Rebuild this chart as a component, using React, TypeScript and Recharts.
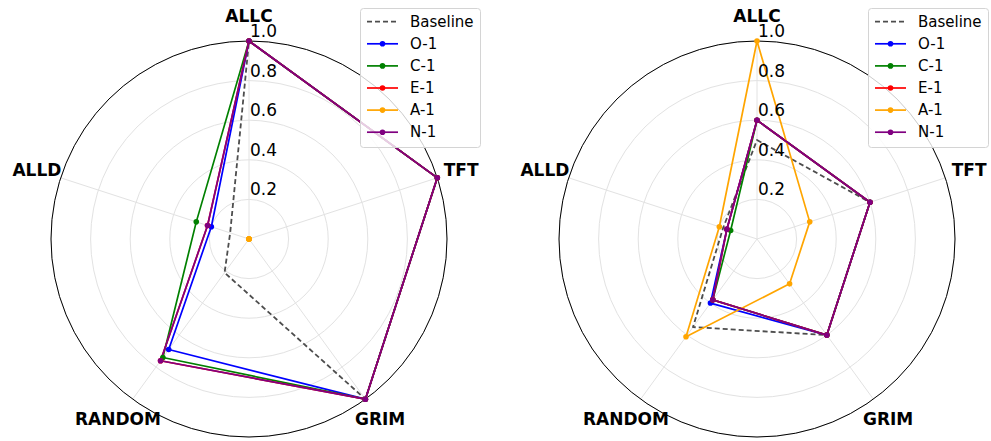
import React from "react";
import {
  PolarAngleAxis,
  PolarGrid,
  PolarRadiusAxis,
  Radar,
  RadarChart,
} from "recharts";

const AXES = ["ALLC", "TFT", "GRIM", "RANDOM", "ALLD"];

// left panel
const L_BASELINE = [1.0, 1.0, 1.0, 0.21, 0.1];
const L_O1 = [1.0, 1.0, 1.0, 0.69, 0.2];
const L_C1 = [1.0, 1.0, 1.0, 0.74, 0.28];
const L_E1 = [1.0, 1.0, 1.0, 0.76, 0.22];
const L_A1 = [0.0, 0.0, 0.0, 0.0, 0.0];
const L_N1 = [1.0, 1.0, 1.0, 0.76, 0.22];

// right panel
const R_BASELINE = [0.5, 0.6, 0.6, 0.55, 0.18];
const R_O1 = [0.6, 0.6, 0.6, 0.4, 0.16];
const R_C1 = [0.6, 0.6, 0.6, 0.38, 0.14];
const R_E1 = [0.6, 0.6, 0.6, 0.38, 0.16];
const R_A1 = [1.0, 0.28, 0.28, 0.61, 0.2];
const R_N1 = [0.6, 0.6, 0.6, 0.38, 0.16];

const RADIUS_TICKS = [0, 0.2, 0.4, 0.6, 0.8, 1.0];

const SERIES = [
  { key: "baseline", name: "Baseline", color: "#4d4d4d", dashed: true },
  { key: "o1", name: "O-1", color: "#0000ff" },
  { key: "c1", name: "C-1", color: "#008000" },
  { key: "e1", name: "E-1", color: "#ff0000" },
  { key: "a1", name: "A-1", color: "#ffa500" },
  { key: "n1", name: "N-1", color: "#800080" },
];

const FONT = "'DejaVu Sans', Verdana, sans-serif";
const R = 198;
const DASH = "5 3";

function buildRows(cols: number[][]) {
  return AXES.map((axis, i) => ({
    axis,
    baseline: cols[0][i],
    o1: cols[1][i],
    c1: cols[2][i],
    e1: cols[3][i],
    a1: cols[4][i],
    n1: cols[5][i],
  }));
}

const angleTick = (props: any) => {
  const { x, y, payload } = props;
  return (
    <text
      x={x}
      y={y}
      textAnchor="middle"
      dominantBaseline="central"
      fontSize={17}
      fontWeight="bold"
      fontFamily={FONT}
      fill="#000"
    >
      {payload.value}
    </text>
  );
};

const radiusTick = (props: any) => {
  const { x, y, payload } = props;
  if (payload.value === 0) return <g />;
  return (
    <text
      x={x + 1}
      y={y - 10}
      textAnchor="start"
      dominantBaseline="central"
      fontSize={17}
      fontFamily={FONT}
      fill="#000"
    >
      {Number(payload.value).toFixed(1)}
    </text>
  );
};

const makeDot = (color: string) => (p: any) => (
  <circle key={`dot-${p.index}`} cx={p.cx} cy={p.cy} r={2.8} fill={color} stroke="none" />
);

function LegendBox({ left }: { left: number }) {
  return (
    <svg
      width={121}
      height={140}
      style={{ position: "absolute", left, top: 8, overflow: "visible" }}
    >
      <rect
        x={0.5}
        y={0.5}
        width={120}
        height={139}
        rx={3}
        fill="rgba(255,255,255,0.8)"
        stroke="#d4d4d4"
      />
      {SERIES.map((s, i) => {
        const y = 13.7 + 22.1 * i;
        return (
          <g key={s.key}>
            <line
              x1={7}
              x2={38}
              y1={y}
              y2={y}
              stroke={s.color}
              strokeWidth={s.dashed ? 1.8 : 1.7}
              strokeDasharray={s.dashed ? DASH : undefined}
            />
            {!s.dashed && <circle cx={22.5} cy={y} r={2.8} fill={s.color} />}
            <text
              x={50}
              y={y}
              dominantBaseline="central"
              fontSize={15}
              fontFamily={FONT}
              fill="#000"
            >
              {s.name}
            </text>
          </g>
        );
      })}
    </svg>
  );
}

function Panel({
  rows,
  left,
  width,
  cx,
  legendLeft,
}: {
  rows: any[];
  left: number;
  width: number;
  cx: number;
  legendLeft: number;
}) {
  return (
    <div style={{ position: "absolute", left, top: 0, width, height: 441 }}>
      <RadarChart
        width={width}
        height={441}
        data={rows}
        cx={cx}
        cy={239}
        outerRadius={R}
        margin={{ top: 0, right: 0, bottom: 0, left: 0 }}
      >
        <PolarGrid gridType="circle" stroke="#e2e2e2" strokeWidth={1} />
        <PolarGrid
          gridType="circle"
          polarRadius={[R]}
          radialLines={false}
          stroke="#000"
          strokeWidth={1}
        />
        <PolarAngleAxis
          dataKey="axis"
          tick={angleTick}
          tickLine={false}
          tickSize={25}
          axisLine={false}
        />
        <PolarRadiusAxis
          type="number"
          angle={90}
          domain={[0, 1]}
          ticks={RADIUS_TICKS as any}
          tickCount={6}
          axisLine={false}
          tickLine={false}
          tick={radiusTick}
        />
        {SERIES.map((s) => (
          <Radar
            key={s.key}
            dataKey={s.key}
            name={s.name}
            stroke={s.color}
            strokeWidth={s.dashed ? 1.8 : 1.7}
            strokeDasharray={s.dashed ? DASH : undefined}
            strokeLinejoin="round"
            fill="none"
            fillOpacity={0}
            dot={s.dashed ? false : makeDot(s.color)}
            isAnimationActive={false}
          />
        ))}
      </RadarChart>
      <LegendBox left={legendLeft} />
    </div>
  );
}

export default function App() {
  const leftRows = buildRows([L_BASELINE, L_O1, L_C1, L_E1, L_A1, L_N1]);
  const rightRows = buildRows([R_BASELINE, R_O1, R_C1, R_E1, R_A1, R_N1]);
  return (
    <div
      style={{
        position: "fixed",
        left: 0,
        top: 0,
        width: 991,
        height: 441,
        background: "#fff",
        fontFamily: FONT,
      }}
    >
      <Panel rows={leftRows} left={0} width={495} cx={249} legendLeft={360} />
      <Panel rows={rightRows} left={495} width={496} cx={262} legendLeft={373} />
    </div>
  );
}
